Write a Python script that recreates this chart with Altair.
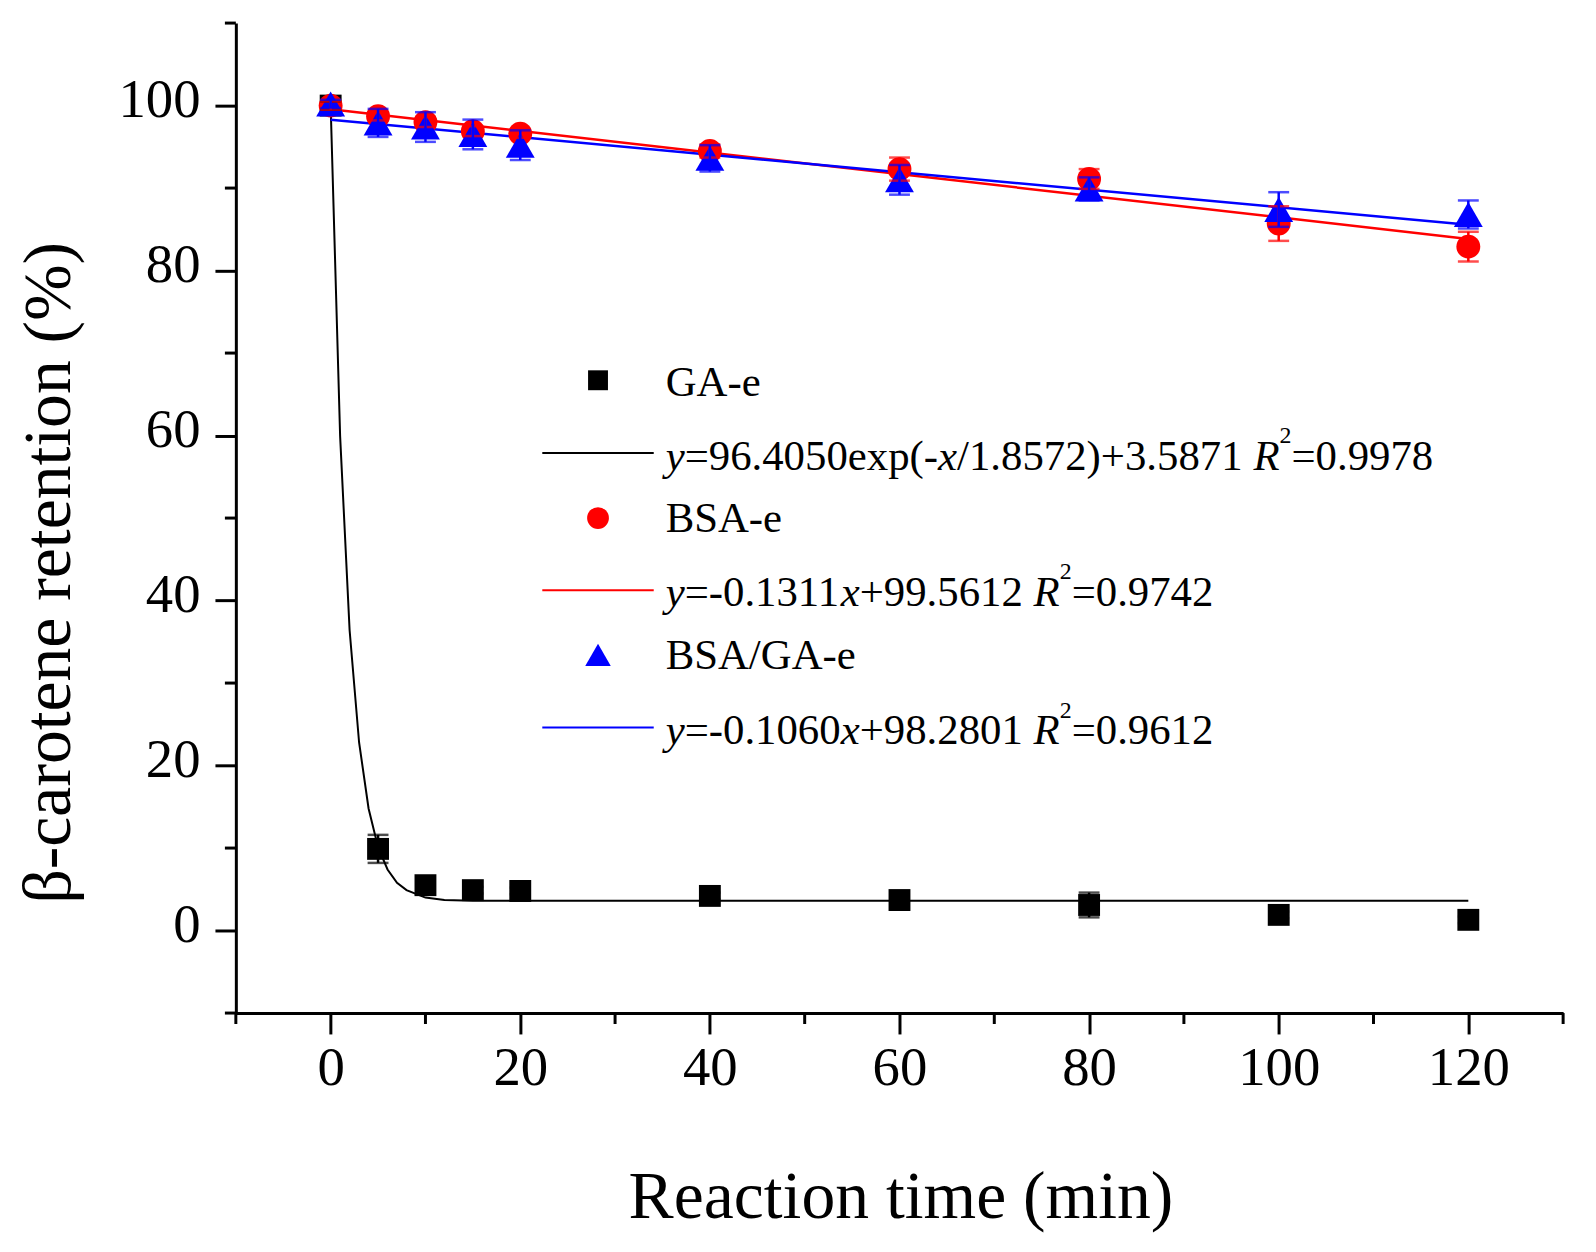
import altair as alt
import pandas as pd

# reaction time (min)
time = [0, 5, 10, 15, 20, 40, 60, 80, 100, 120]

# beta-carotene retention (%) with error bars
ga_e = [100.0, 9.9, 5.5, 4.9, 4.8, 4.2, 3.7, 3.1, 1.9, 1.3]
ga_e_err = [0.5, 1.7, 0.5, 0.4, 0.4, 0.4, 0.6, 1.5, 0.4, 0.4]
bsa_e = [100.0, 98.7, 98.0, 96.9, 96.6, 94.5, 92.3, 91.1, 85.7, 82.9]
bsa_e_err = [0.5, 0.5, 0.6, 0.6, 0.5, 0.8, 1.4, 1.2, 2.1, 1.8]
bsa_ga_e = [100.2, 97.9, 97.4, 96.5, 95.2, 93.6, 91.0, 89.9, 87.4, 86.8]
bsa_ga_e_err = [0.5, 1.7, 1.8, 1.8, 1.8, 1.6, 1.8, 1.4, 2.1, 1.7]

# fitted curves
ga_fit_t = [0, 1, 2, 3, 4, 5, 6, 7, 8, 10, 12, 15, 20, 120]
ga_fit_y = [100.0, 59.9, 36.4, 22.8, 14.8, 10.1, 7.4, 5.8, 4.9, 4.0, 3.7, 3.6, 3.6, 3.6]
bsa_fit_t = [0, 120]
bsa_fit_y = [99.56, 83.83]
bsa_ga_fit_t = [0, 120]
bsa_ga_fit_y = [98.28, 85.56]

# axis ticks
x_major = [0, 20, 40, 60, 80, 100, 120]
x_minor = [-10, 10, 30, 50, 70, 90, 110, 130]
y_major = [0, 20, 40, 60, 80, 100]
y_minor = [-10, 10, 30, 50, 70, 90, 110]

# legend text
names = ["GA-e", "BSA-e", "BSA/GA-e"]
equations = [
    [("y", "it"), ("=96.4050exp(-", "reg"), ("x", "it"), ("/1.8572)+3.5871 ", "reg"),
     ("R", "it"), ("2", "sup"), ("=0.9978", "reg")],
    [("y", "it"), ("=-0.1311", "reg"), ("x", "it"), ("+99.5612 ", "reg"),
     ("R", "it"), ("2", "sup"), ("=0.9742", "reg")],
    [("y", "it"), ("=-0.1060", "reg"), ("x", "it"), ("+98.2801 ", "reg"),
     ("R", "it"), ("2", "sup"), ("=0.9612", "reg")],
]

FONT = "Liberation Serif"
LEG_SIZE = 43
SUP_SIZE = 24
W, H = 1334, 995

# Times-compatible glyph widths (em) to place the text pieces
REG_W = {".": 0.25, "=": 0.564, "-": 0.333, "+": 0.564, "(": 0.333, ")": 0.333,
         "/": 0.278, "e": 0.444, "x": 0.5, "p": 0.5, " ": 0.25}
IT_W = {"y": 0.444, "x": 0.444, "R": 0.611}


def piece_width(text, style):
    if style == "sup":
        return 0.5 * SUP_SIZE * len(text)
    table = IT_W if style == "it" else REG_W
    return sum(table.get(c, 0.5) for c in text) * LEG_SIZE


xs = alt.Scale(domain=[-10, 130], nice=False, zero=False)
ys = alt.Scale(domain=[-10, 110], nice=False, zero=False)

x_axis = alt.Axis(
    values=x_major, title="Reaction time (min)", tickSize=21,
    labelPadding=51, labelBaseline="alphabetic", labelFontSize=55,
    titleX=668, titleY=205, titleBaseline="alphabetic", titleAlign="center",
    labelFlush=False, labelOverlap=False,
)
y_axis = alt.Axis(
    values=y_major, title="β-carotene retention (%)", tickSize=21,
    labelPadding=15, labelBaseline="alphabetic", labelOffset=11, labelFontSize=55,
    titleX=-167, titleY=552, titleAngle=270, titleBaseline="alphabetic", titleAlign="center",
    labelFlush=False, labelOverlap=False,
)


def xq(field):
    return alt.X(field, type="quantitative", scale=xs, axis=x_axis)


def yq(field):
    return alt.Y(field, type="quantitative", scale=ys, axis=y_axis)


def series_df(vals, errs):
    return pd.DataFrame({
        "t": time, "y": vals,
        "lo": [v - e for v, e in zip(vals, errs)],
        "hi": [v + e for v, e in zip(vals, errs)],
    })


ga_df = series_df(ga_e, ga_e_err)
bsa_df = series_df(bsa_e, bsa_e_err)
bsaga_df = series_df(bsa_ga_e, bsa_ga_e_err)

# minor ticks along the axis lines
minor_x = alt.Chart(pd.DataFrame({"t": x_minor})).mark_rule(
    color="black", strokeWidth=3).encode(
    x=xq("t"), y=alt.value(H), y2=alt.value(H + 11))
minor_y = alt.Chart(pd.DataFrame({"y": y_minor})).mark_rule(
    color="black", strokeWidth=3).encode(
    y=yq("y"), x=alt.value(0), x2=alt.value(-11))


def fit_line(ts, vals, color, w):
    return alt.Chart(pd.DataFrame({"t": ts, "y": vals})).mark_line(
        color=color, strokeWidth=w).encode(x=xq("t"), y=yq("y"))


def points(df, shape, color, size):
    return alt.Chart(df).mark_point(
        shape=shape, filled=True, color=color, size=size, opacity=1).encode(
        x=xq("t"), y=yq("y"))


def errbars(df, color):
    bar = alt.Chart(df).mark_rule(color=color, strokeWidth=2.5).encode(
        x=xq("t"), y=yq("lo"), y2="hi:Q")
    caps = alt.Chart(df).transform_fold(["lo", "hi"], as_=["k", "v"]).mark_tick(
        color=color, orient="horizontal", size=21, thickness=2.5).encode(
        x=xq("t"), y=yq("v"))
    return bar + caps


# legend layout (pixels inside the plot area)
mark_x = 364
text_x = 432
mark_y = [359, 497.5, 635]
name_y = [375, 512, 649]
line_y = [432, 570, 708]
eq_y = [449, 586, 725]
colors = ["black", "#ff0000", "#0000ff"]
shapes = ["square", "circle", "triangle-up"]
leg_sizes = [400, 480, 660]

legend = []
for i in range(3):
    legend.append(alt.Chart(pd.DataFrame({"a": [0]})).mark_point(
        shape=shapes[i], filled=True, color=colors[i], size=leg_sizes[i], opacity=1).encode(
        x=alt.value(mark_x), y=alt.value(mark_y[i])))
    legend.append(alt.Chart(pd.DataFrame({"a": [0]})).mark_rule(
        color=colors[i], strokeWidth=2).encode(
        x=alt.value(308), x2=alt.value(420), y=alt.value(line_y[i])))

rows = []
for i, segs in enumerate(equations):
    px = text_x
    for text, style in segs:
        py = eq_y[i] - 27 if style == "sup" else eq_y[i]
        rows.append({"txt": text, "px": px, "py": py, "style": style})
        px += piece_width(text, style)
seg_df = pd.DataFrame(rows)
name_df = pd.DataFrame({"txt": names, "px": [text_x] * 3, "py": name_y, "style": ["reg"] * 3})
all_text = pd.concat([name_df, seg_df], ignore_index=True)


def text_layer(style, size, font_style):
    return alt.Chart(all_text).transform_filter(
        alt.datum.style == style).mark_text(
        align="left", baseline="alphabetic", font=FONT, fontSize=size,
        fontStyle=font_style, color="black").encode(
        x=alt.X("px:Q", scale=None),
        y=alt.Y("py:Q", scale=None),
        text="txt:N")


texts = (text_layer("reg", LEG_SIZE, "normal") + text_layer("it", LEG_SIZE, "italic")
         + text_layer("sup", SUP_SIZE, "normal"))

chart = alt.layer(
    minor_x,
    minor_y,
    fit_line(ga_fit_t, ga_fit_y, "black", 2),
    fit_line(bsa_fit_t, bsa_fit_y, "#ff0000", 2.5),
    fit_line(bsa_ga_fit_t, bsa_ga_fit_y, "#0000ff", 2.5),
    points(ga_df, "square", "black", 484),
    points(bsa_df, "circle", "#ff0000", 576),
    points(bsaga_df, "triangle-up", "#0000ff", 841),
    errbars(ga_df, "black"),
    errbars(bsa_df, "#ff0000"),
    errbars(bsaga_df, "#0000ff"),
    *legend,
    texts,
).properties(
    width=W, height=H,
    autosize=alt.AutoSizeParams(type="none"),
    padding={"left": 229, "top": 12, "right": 25, "bottom": 237},
).configure_view(stroke=None).configure_axis(
    labelFont=FONT, titleFont=FONT, titleFontSize=68, titleFontWeight="normal",
    labelColor="black", titleColor="black", domainColor="black", domainWidth=3,
    tickColor="black", tickWidth=3, grid=False,
)

chart.save("out.html", embed_options={"renderer": "svg", "actions": False})
